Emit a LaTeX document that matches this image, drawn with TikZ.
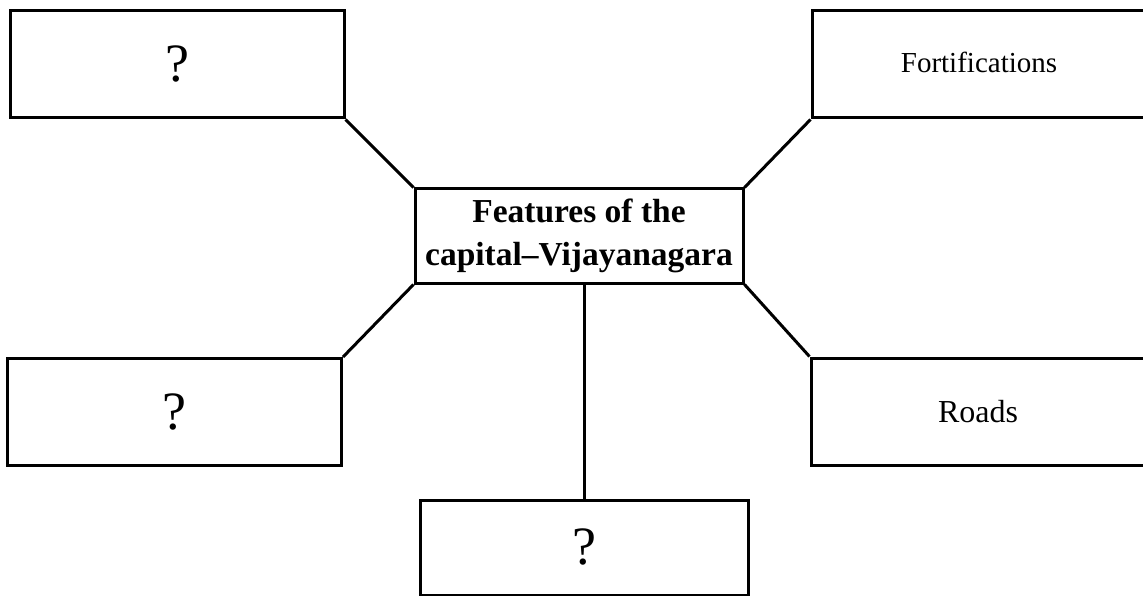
\documentclass[tikz,border=0pt]{standalone}
\usepackage{fontspec}
\setmainfont{Liberation Serif}
\usetikzlibrary{positioning, calc}

\begin{document}
\begin{tikzpicture}[
    x=1pt, y=-1pt,
    box/.style={draw,line width=3pt,inner sep=0pt,minimum width=334pt,minimum height=107pt},
    hubbox/.style={box,minimum width=328pt,minimum height=94pt,align=center,
      font=\fontsize{33.5}{43}\selectfont\bfseries},
    qmark/.style={font=\fontsize{54}{54}\selectfont},
    item/.style={font=\fontsize{29}{32}\selectfont},
    link/.style={line width=3pt}
  ]
  \clip (0,0) rectangle (1143,596);
  \fill[white] (0,0) rectangle (1143,596);
  % centre
  \node[hubbox] (hub) at (579,236) {Features of the\\capital--Vijayanagara};
  % outer boxes
  \node[box,qmark] (tl) at (177,64.5) {?};
  \node[box,item] (tr) at (979,64.5) {\raisebox{5pt}{Fortifications}};
  \node[box,qmark] (bl) at (174.5,412) {?};
  \node[box,item,font=\fontsize{32}{34}\selectfont] (br) at (978,411.5) {Roads};
  \node[box,qmark,minimum width=328pt,minimum height=95pt] (bot) at (584,547.5) {\raisebox{-6pt}{?}};
  % links
  \draw[link] (tl.south east) -- (hub.north west);
  \draw[link] (tr.south west) -- (hub.north east);
  \draw[link] (bl.north east) -- (hub.south west);
  \draw[link] (br.north west) -- (hub.south east);
  \draw[link] (bot.north |- hub.south) -- (bot.north);
\end{tikzpicture}
\end{document}
